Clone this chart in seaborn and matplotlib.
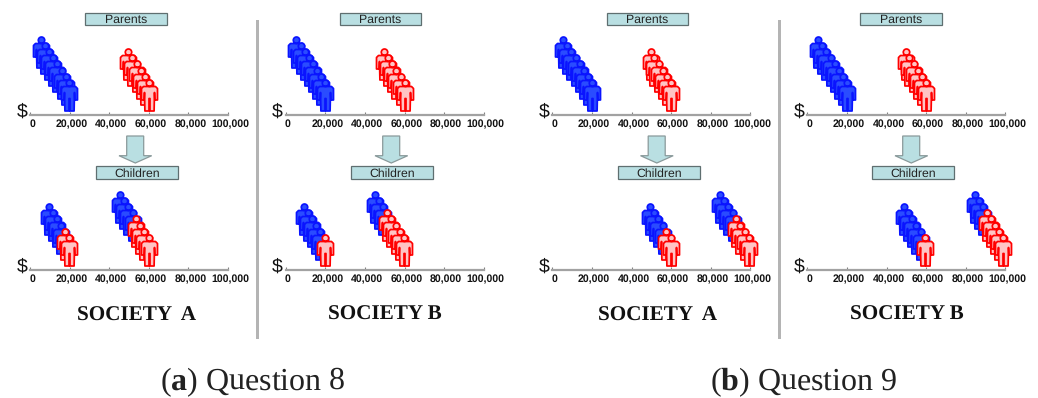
# society income pictograms, parents vs children
import numpy as np
import pandas as pd
import matplotlib
matplotlib.use("Agg")
import matplotlib.pyplot as plt
import seaborn as sns
from matplotlib.patches import Polygon, Rectangle
from matplotlib.path import Path
from matplotlib.transforms import ScaledTranslation

W, H = 1038, 398

ticks = [0, 20000, 40000, 60000, 80000, 100000]
tick_labels = ["0", "20,000", "40,000", "60,000", "80,000", "100,000"]

# incomes, one person each
parents_blue = [5400, 7600, 9600, 11800, 13800, 16000, 18000, 19800]
parents_red = [49600, 51600, 53800, 55900, 58000, 60000]

q8a_low_blue = [9400, 11600, 13800, 15800]
q8a_low_red = [17600, 19800]
q8a_high_blue = [45400, 47600, 49700, 51900]
q8a_high_red = [53400, 55600, 57800, 60000]

q8b_low_blue = [9100, 11200, 13400, 15400, 17500]
q8b_low_red = [19700]
q8b_high_blue = [45000, 47200, 49200]
q8b_high_red = [51300, 53400, 55500, 57700, 59700]

q9a_low_blue = [49200, 51400, 53600, 55800]
q9a_low_red = [57500, 59700]
q9a_high_blue = [84700, 86900, 88900, 91100]
q9a_high_red = [92900, 95000, 97100, 99200]

q9b_low_blue = [48900, 50900, 53100, 55100, 57300]
q9b_low_red = [59500]
q9b_high_blue = [84500, 86600, 88700]
q9b_high_red = [90800, 92800, 95000, 97000, 99000]

parents = [(parents_blue, []), ([], parents_red)]
children = [
    [(q8a_low_blue, q8a_low_red), (q8a_high_blue, q8a_high_red)],
    [(q8b_low_blue, q8b_low_red), (q8b_high_blue, q8b_high_red)],
    [(q9a_low_blue, q9a_low_red), (q9a_high_blue, q9a_high_red)],
    [(q9b_low_blue, q9b_low_red), (q9b_high_blue, q9b_high_red)],
]

# layout in pixels of the target
col_x0 = [30, 285.7, 552.3, 807.3]
parent_box_x = [85, 339.5, 606.5, 860]
child_box_x = [96.3, 351.3, 618.3, 872.3]
arrow_x = [119, 375, 640.5, 895]
titles = ["SOCIETY  A", "SOCIETY B", "SOCIETY  A", "SOCIETY B"]
title_x = [136.5, 385, 658, 906.5]
title_y = [316, 315, 316, 315]
axis_w = 198
parent_axis_y = 114.5
child_axis_y = 269.5
axes_h = 90
step_px = 6.17
centre_px = 19.5

BLUE_FACE, BLUE_EDGE = "#2a4cff", "#0a14ff"
RED_FACE, RED_EDGE = "#ffc4c4", "#ff0000"
BOX = "#b9dfe2"
BOX_EDGE = "#5f6f70"

sns.set_style("white")
plt.rcParams["font.family"] = ["Liberation Sans", "DejaVu Sans"]
plt.rcParams["mathtext.fontset"] = "custom"
plt.rcParams["mathtext.rm"] = "Liberation Serif"
plt.rcParams["mathtext.bf"] = "Liberation Serif:bold"
plt.rcParams["text.hinting"] = "no_hinting"

# person marker, 16 wide by 31 tall
body = [(-6, 9), (6, 9), (8, 7), (8, -4.5), (5.4, -4.5), (5, 3), (4.6, -15.5), (0.5, -15.5),
        (0.5, -3), (-0.5, -3), (-0.5, -15.5), (-4.6, -15.5), (-5, 3), (-5.4, -4.5),
        (-8, -4.5), (-8, 7), (-6, 9)]
person = Path.make_compound_path(Path.circle((0, 12.3), 3.2), Path(body, closed=True))

fig = plt.figure(figsize=(W / 100, H / 100), dpi=100)


def fx(px):
    return px / W


def fy(py):
    return 1 - py / H


def draw_group(ax, xs, face, edge, top_level):
    # people step down towards the richest one
    if not xs:
        return
    df = pd.DataFrame({"income": xs, "level": np.arange(top_level, top_level - len(xs), -1)})
    sns.scatterplot(data=df, x="income", y="level", ax=ax, marker=person, s=498,
                    color=face, edgecolor=edge, linewidth=1.25, legend=False, clip_on=False)


def draw_panel(x0, axis_y, clusters):
    ax = fig.add_axes([fx(x0), fy(axis_y), axis_w / W, axes_h / H])
    ax.patch.set_alpha(0)
    for blue, red in clusters:
        top = len(blue) + len(red) - 1
        draw_group(ax, blue, BLUE_FACE, BLUE_EDGE, top)
        draw_group(ax, red, RED_FACE, RED_EDGE, len(red) - 1)
    ax.set_xlim(0, 100000)
    ax.set_ylim(-centre_px / step_px, (axes_h - centre_px) / step_px)
    ax.set_yticks([])
    ax.set_xlabel("")
    ax.set_ylabel("")
    ax.set_xticks(ticks)
    ax.set_xticklabels(tick_labels, fontsize=7.6, fontweight="bold", color="#111111")
    ax.tick_params(axis="x", direction="in", length=2.5, width=0.8, color="#808080", pad=3.2, bottom=True)
    shift = ScaledTranslation(2 / 100, 0, fig.dpi_scale_trans)
    for lab in ax.get_xticklabels():
        lab.set_transform(lab.get_transform() + shift)
    sns.despine(ax=ax, left=True)
    ax.spines["bottom"].set_color("#a2a2a2")
    ax.spines["bottom"].set_linewidth(1.6)
    fig.text(fx(x0 - 8), fy(axis_y - 3), "$", fontsize=14, ha="center", va="center", color="#111111")


def draw_box(x, y, w, h, label):
    fig.add_artist(Rectangle((fx(x), fy(y + h)), w / W, h / H, transform=fig.transFigure,
                             facecolor=BOX, edgecolor=BOX_EDGE, linewidth=0.9))
    fig.text(fx(x + w / 2), fy(y + h / 2), label, fontsize=8.8, ha="center", va="center_baseline", color="#222222")


def draw_arrow(x):
    shape = [(7.7, 136), (24.7, 136), (24.7, 155.7), (32.7, 155.7), (16.3, 163), (0, 155.7), (7.7, 155.7)]
    pts = [(fx(x + a), fy(b)) for a, b in shape]
    fig.add_artist(Polygon(pts, closed=True, transform=fig.transFigure,
                           facecolor=BOX, edgecolor="#8a9a9b", linewidth=0.9))


for i in range(4):
    draw_panel(col_x0[i], parent_axis_y, parents)
    draw_panel(col_x0[i], child_axis_y, children[i])
    draw_box(parent_box_x[i], 13, 81.7, 11.7, "Parents")
    draw_box(child_box_x[i], 166.3, 81.7, 12.4, "Children")
    draw_arrow(arrow_x[i])
    fig.text(fx(title_x[i]), fy(title_y[i]), titles[i], family="Liberation Serif", fontweight="bold",
             fontsize=15.2, ha="center", va="center", color="#111111")

# grey separators between the societies
for x in [257.5, 779]:
    fig.add_artist(Rectangle((fx(x - 1.5), fy(339)), 3 / W, 319 / H, transform=fig.transFigure,
                             facecolor="#b4b4b4", edgecolor="none"))

fig.text(fx(253), fy(382), r"($\mathbf{a}$) Question 8", family="Liberation Serif", fontsize=23,
         ha="center", va="center", color="#222222")
fig.text(fx(803.5), fy(382), r"($\mathbf{b}$) Question 9", family="Liberation Serif", fontsize=23,
         ha="center", va="center", color="#222222")

fig.savefig("out.png", dpi=100)
